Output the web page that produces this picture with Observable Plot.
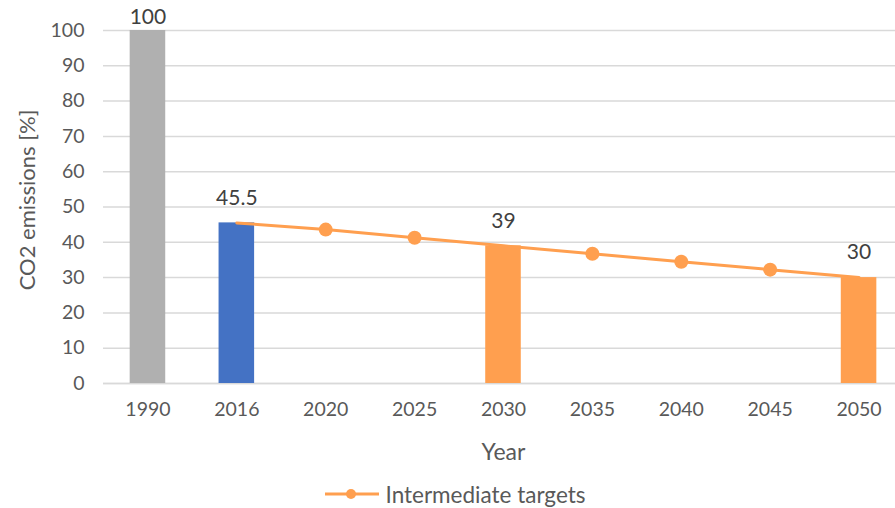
<!DOCTYPE html>
<html>
<head>
<meta charset="utf-8">
<script src="https://cdn.jsdelivr.net/npm/d3@7"></script>
<script src="https://cdn.jsdelivr.net/npm/@observablehq/plot@0.6"></script>
<style>
  html, body { margin: 0; padding: 0; background: #fff; }
  #chart { width: 895px; height: 508px; overflow: hidden; }
  .legend { height: 38px; display: flex; align-items: center; justify-content: center;
            font-family: Lato, sans-serif; font-size: 22.5px; color: #595959; gap: 7px;
            padding-left: 15px; box-sizing: border-box; }
</style>
</head>
<body>
<div id="chart"></div>
<script>
// ---- data ----
const categories = ["1990", "2016", "2020", "2025", "2030", "2035", "2040", "2045", "2050"];
const barYears = ["1990", "2016", "2030", "2050"];
const barValues = [100, 45.5, 39, 30];
const barKinds = ["Reference", "Current", "Target", "Target"];
const kindNames = ["Reference", "Current", "Target"];
const targetYears = ["2016", "2020", "2025", "2030", "2035", "2040", "2045", "2050"];
const targetValues = [45.5, 43.6, 41.3, 39, 36.75, 34.5, 32.25, 30];
const markerYears = ["2020", "2025", "2035", "2040", "2045"];
const yTicks = [0, 10, 20, 30, 40, 50, 60, 70, 80, 90, 100];
const yLabel = "CO2 emissions [%]";
const xLabel = "Year";
const seriesName = "Intermediate targets";

// ---- tables built from the arrays ----
const bars = barYears.map((year, i) => ({year, value: barValues[i], kind: barKinds[i]}));
const targets = targetYears.map((year, i) => ({year, value: targetValues[i]}));
const markers = targets.filter(d => markerYears.includes(d.year));
const maxVal = d3.max(barValues);

const ORANGE = "#FF9F4F";
const TEXT = "#595959";

const plot = Plot.plot({
  width: 895,
  height: 475,
  marginLeft: 103,
  marginRight: -8,
  marginTop: 30,
  marginBottom: 92,
  style: {fontFamily: "Lato, sans-serif", fontSize: "19.5px", color: TEXT, background: "#fff", overflow: "hidden"},
  x: {domain: categories, range: [103, 903], round: false, paddingInner: 0.6, paddingOuter: 0.3, align: 0.5, label: null},
  y: {domain: [0, 100], label: null},
  color: {domain: kindNames, range: ["#B0B0B0", "#4472C4", ORANGE]},
  marks: [
    Plot.gridY(yTicks, {stroke: "#D9D9D9", strokeOpacity: 1, strokeWidth: 1.5}),
    Plot.ruleY([0], {stroke: "#D9D9D9", strokeWidth: 1.5}),
    Plot.axisY(yTicks, {tickSize: 0, tickPadding: 19, label: null, fill: TEXT}),
    Plot.axisX({tickSize: 0, tickPadding: 19, label: null, fill: TEXT}),
    Plot.text([yLabel], {frameAnchor: "left", rotate: -90, dx: -76, dy: -7, textAnchor: "middle", lineAnchor: "middle", text: d => d, fill: TEXT, fontSize: 22}),
    Plot.text([xLabel], {frameAnchor: "bottom", dy: 69, lineAnchor: "middle", textAnchor: "middle", text: d => d, fill: TEXT, fontSize: 23}),
    Plot.barY(bars, {x: "year", y: "value", fill: "kind"}),
    Plot.line(targets, {x: "year", y: "value", stroke: ORANGE, strokeWidth: 3}),
    Plot.dot(markers, {x: "year", y: "value", r: 7, fill: ORANGE, stroke: "none"}),
    Plot.text(bars.filter(d => d.value !== maxVal), {x: "year", y: "value", text: d => String(d.value), dy: -25, fill: "#404040", fontSize: 21}),
    Plot.text(bars.filter(d => d.value === maxVal), {x: "year", y: "value", text: d => String(d.value), dy: -13, fill: "#404040", fontSize: 21})
  ]
});

const chart = document.getElementById("chart");
chart.appendChild(plot);

const legend = document.createElement("div");
legend.className = "legend";
legend.innerHTML = `<svg width="54" height="14" style="overflow:visible"><line x1="0" x2="54" y1="7" y2="7" stroke="${ORANGE}" stroke-width="3"></line><circle cx="26" cy="7" r="5" fill="${ORANGE}"></circle></svg><span>${seriesName}</span>`;
chart.appendChild(legend);
</script>
</body>
</html>
